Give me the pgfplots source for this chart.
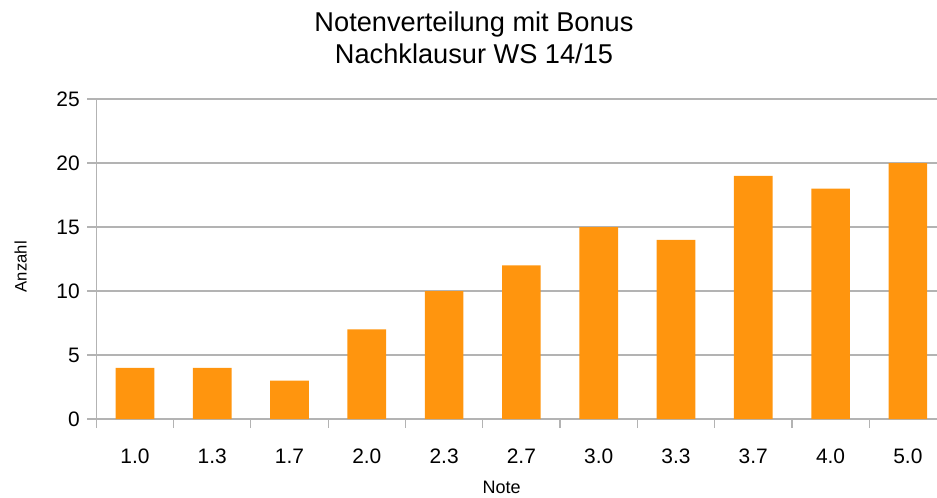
\documentclass[border=0pt]{standalone}
\usepackage{pgfplots}
\pgfplotsset{compat=1.18}
\usepackage{fontspec}
\setmainfont{Liberation Sans}
\definecolor{barorange}{HTML}{FF950E}
\definecolor{gridgray}{HTML}{B3B3B3}
\begin{document}
\begin{tikzpicture}
\useasboundingbox (0pt,0pt) rectangle (702.75pt,372.75pt);
\begin{axis}[
  at={(72.2pt,58.5pt)}, anchor=south west,
  scale only axis,
  width=630.5pt, height=240pt,
  xmin=-0.5, xmax=10.376,
  ymin=0, ymax=25,
  ytick={0,5,10,15,20,25},
  xtick={0,1,2,3,4,5,6,7,8,9,10},
  xticklabels={1.0,1.3,1.7,2.0,2.3,2.7,3.0,3.3,3.7,4.0,5.0},
  minor xtick={-0.5,0.5,1.5,2.5,3.5,4.5,5.5,6.5,7.5,8.5,9.5},
  axis x line*=bottom, axis y line*=left,
  axis line style={gridgray, line width=0.9pt, -},
  ymajorgrids, grid style={gridgray, line width=0.9pt},
  major x tick style={draw=none},
  minor x tick style={gridgray, line width=0.9pt},
  major y tick style={gridgray, line width=0.9pt},
  tick align=outside,
  major tick length=6.75pt, minor tick length=6.75pt,
  xticklabel style={anchor=base, yshift=-26.25pt, inner sep=0pt, font=\fontsize{15.7}{18}\selectfont},
  yticklabel style={anchor=east, xshift=-5.5pt, inner sep=0pt, font=\fontsize{15.7}{18}\selectfont},
  /pgf/number format/assume math mode=true,
  ybar, bar width=29pt,
  clip=false,
]
\addplot[fill=barorange, draw=none] coordinates {
  (0,4) (1,4) (2,3) (3,7) (4,10) (5,12) (6,15) (7,14) (8,19) (9,18) (10,20)
};
\end{axis}
\node[anchor=base, inner sep=0pt, font=\fontsize{20.4}{24}\selectfont] at (355.5pt,349pt) {Notenverteilung mit Bonus};
\node[anchor=base, inner sep=0pt, font=\fontsize{20.4}{24}\selectfont] at (355.5pt,325.3pt) {Nachklausur WS 14/15};
\node[anchor=base, inner sep=0pt, font=\fontsize{13.5}{16}\selectfont] at (376.3pt,2.8pt) {Note};
\node[anchor=base, rotate=90, inner sep=0pt, font=\fontsize{12.5}{15}\selectfont] at (20pt,172.7pt) {Anzahl};
\end{tikzpicture}
\end{document}
